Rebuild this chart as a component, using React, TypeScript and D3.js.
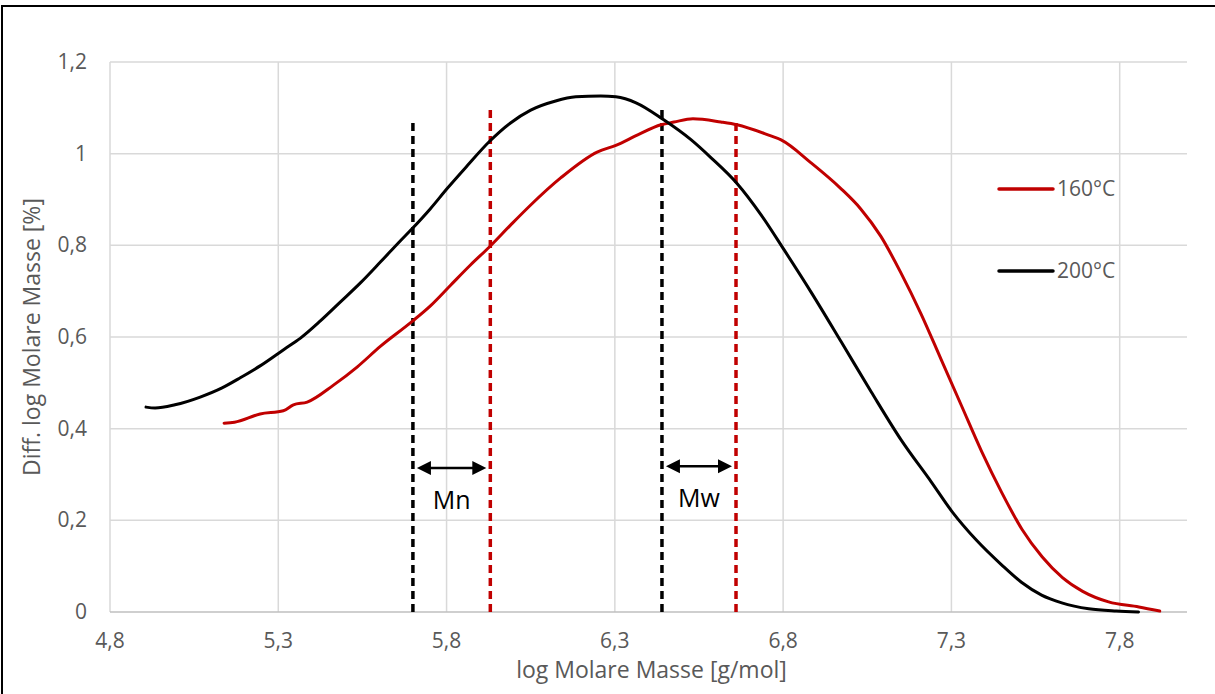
import React, { useRef, useEffect } from 'react';
import * as d3 from 'd3';

// 200°C curve (black)
const x200 = [4.907, 4.934, 4.993, 5.068, 5.133, 5.187, 5.246, 5.321, 5.365, 5.425, 5.484, 5.544, 5.604, 5.663, 5.696, 5.752, 5.803, 5.857, 5.928, 5.99, 6.05, 6.124, 6.184, 6.258, 6.303, 6.363, 6.443, 6.527, 6.586, 6.663, 6.735, 6.803, 6.883, 6.973, 7.062, 7.151, 7.24, 7.303, 7.374, 7.449, 7.508, 7.568, 7.628, 7.708, 7.79, 7.856];
const y200 = [0.447, 0.445, 0.452, 0.469, 0.489, 0.511, 0.537, 0.575, 0.597, 0.635, 0.676, 0.718, 0.764, 0.81, 0.835, 0.88, 0.925, 0.97, 1.027, 1.067, 1.095, 1.115, 1.124, 1.126, 1.124, 1.111, 1.075, 1.03, 0.991, 0.935, 0.866, 0.79, 0.698, 0.589, 0.48, 0.375, 0.284, 0.218, 0.157, 0.103, 0.065, 0.037, 0.02, 0.007, 0.002, 0.0];

// 160°C curve (red)
const x160 = [5.139, 5.17, 5.246, 5.315, 5.345, 5.386, 5.464, 5.535, 5.604, 5.696, 5.752, 5.812, 5.871, 5.928, 5.99, 6.05, 6.139, 6.249, 6.303, 6.368, 6.437, 6.476, 6.532, 6.615, 6.663, 6.755, 6.794, 6.883, 6.97, 7.03, 7.09, 7.15, 7.21, 7.27, 7.33, 7.39, 7.45, 7.51, 7.57, 7.63, 7.69, 7.767, 7.857, 7.919];
const y160 = [0.412, 0.414, 0.432, 0.439, 0.452, 0.458, 0.495, 0.535, 0.58, 0.633, 0.668, 0.713, 0.757, 0.797, 0.844, 0.888, 0.947, 1.004, 1.018, 1.041, 1.063, 1.069, 1.076, 1.069, 1.063, 1.041, 1.03, 0.98, 0.925, 0.88, 0.82, 0.74, 0.65, 0.55, 0.45, 0.35, 0.26, 0.18, 0.12, 0.075, 0.045, 0.022, 0.011, 0.002];

const xTicks = [4.8, 5.3, 5.8, 6.3, 6.8, 7.3, 7.8];
const xTickLabels = ['4,8', '5,3', '5,8', '6,3', '6,8', '7,3', '7,8'];
const yTicks = [0, 0.2, 0.4, 0.6, 0.8, 1, 1.2];
const yTickLabels = ['0', '0,2', '0,4', '0,6', '0,8', '1', '1,2'];

// Mn / Mw marker lines: position, top value, colour
const markerX = [5.70, 5.93, 6.44, 6.66];
const markerTop = [1.076, 1.10, 1.098, 1.074];
const markerColor = ['#000000', '#c00000', '#000000', '#c00000'];

const arrowNames = ['Mn', 'Mw'];
const arrowFrom = [5.70, 6.44];
const arrowTo = [5.93, 6.66];
const arrowY = [0.314, 0.318];
const arrowLabelY = [0.225, 0.229];

const seriesNames = ['160°C', '200°C'];
const seriesColors = ['#c00000', '#000000'];

export default function App() {
  const svgRef = useRef<SVGSVGElement>(null);

  useEffect(() => {
    const width = 1215;
    const height = 694;
    const font = '"Open Sans", sans-serif';

    const x = d3.scaleLinear().domain([4.8, 8.0]).range([110, 1187]);
    const y = d3.scaleLinear().domain([0, 1.2]).range([612, 62]);

    const svg = d3.select(svgRef.current)
      .attr('width', width)
      .attr('height', height)
      .attr('viewBox', [0, 0, width, height].join(' '));
    svg.selectAll('*').remove();

    svg.append('rect').attr('width', width).attr('height', height).attr('fill', '#fff');

    // outer frame (right and bottom edges fall outside the picture)
    svg.append('rect')
      .attr('x', 2).attr('y', 6).attr('width', 1300).attr('height', 800)
      .attr('fill', 'none').attr('stroke', '#000').attr('stroke-width', 2);

    // grid
    svg.append('g')
      .selectAll('line')
      .data(yTicks.slice(1))
      .join('line')
        .attr('x1', x(4.8)).attr('x2', x(8.0))
        .attr('y1', d => y(d)).attr('y2', d => y(d))
        .attr('stroke', '#d9d9d9').attr('stroke-width', 1.5);

    svg.append('g')
      .selectAll('line')
      .data(xTicks)
      .join('line')
        .attr('x1', d => x(d)).attr('x2', d => x(d))
        .attr('y1', y(0)).attr('y2', y(1.2))
        .attr('stroke', '#d9d9d9').attr('stroke-width', 1.5);

    // x axis line
    svg.append('line')
      .attr('x1', x(4.8)).attr('x2', x(8.0))
      .attr('y1', y(0)).attr('y2', y(0))
      .attr('stroke', '#bfbfbf').attr('stroke-width', 1.5);

    // tick labels
    svg.append('g')
      .selectAll('text')
      .data(xTicks)
      .join('text')
        .attr('x', d => x(d))
        .attr('y', 648)
        .attr('text-anchor', 'middle')
        .attr('font-family', font).attr('font-size', 21).attr('fill', '#595959')
        .text((d, i) => xTickLabels[i]);

    svg.append('g')
      .selectAll('text')
      .data(yTicks)
      .join('text')
        .attr('x', 87)
        .attr('y', d => y(d) + 7)
        .attr('text-anchor', 'end')
        .attr('font-family', font).attr('font-size', 21).attr('fill', '#595959')
        .text((d, i) => yTickLabels[i]);

    // axis titles
    svg.append('text')
      .attr('x', (x(4.8) + x(8.0)) / 2 + 3)
      .attr('y', 678)
      .attr('text-anchor', 'middle')
      .attr('font-family', font).attr('font-size', 23).attr('fill', '#595959')
      .text('log Molare Masse [g/mol]');

    svg.append('text')
      .attr('transform', `translate(40,${(y(0) + y(1.2)) / 2}) rotate(-90)`)
      .attr('text-anchor', 'middle')
      .attr('font-family', font).attr('font-size', 23).attr('fill', '#595959')
      .text('Diff. log Molare Masse [%]');

    // dashed Mn / Mw lines
    svg.append('g')
      .selectAll('line')
      .data(markerX)
      .join('line')
        .attr('x1', d => x(d)).attr('x2', d => x(d))
        .attr('y1', y(0)).attr('y2', (d, i) => y(markerTop[i]))
        .attr('stroke', (d, i) => markerColor[i])
        .attr('stroke-width', 3.5)
        .attr('stroke-dasharray', '8,5');

    // curves
    const line = d3.line<[number, number]>()
      .x(d => x(d[0]))
      .y(d => y(d[1]))
      .curve(d3.curveMonotoneX);

    const series = [
      { pts: x160.map((v, i) => [v, y160[i]] as [number, number]), color: seriesColors[0] },
      { pts: x200.map((v, i) => [v, y200[i]] as [number, number]), color: seriesColors[1] },
    ];

    svg.append('g')
      .selectAll('path')
      .data(series)
      .join('path')
        .attr('d', d => line(d.pts))
        .attr('fill', 'none')
        .attr('stroke', d => d.color)
        .attr('stroke-width', 3)
        .attr('stroke-linejoin', 'round')
        .attr('stroke-linecap', 'round');

    // double arrows
    const head = 14;
    const half = 7;
    const arrows = svg.append('g');
    arrowNames.forEach((name, i) => {
      const x1 = x(arrowFrom[i]) + 4;
      const x2 = x(arrowTo[i]) - 4;
      const ay = y(arrowY[i]);
      arrows.append('line')
        .attr('x1', x1 + head - 2).attr('x2', x2 - head + 2)
        .attr('y1', ay).attr('y2', ay)
        .attr('stroke', '#000').attr('stroke-width', 2.5);
      arrows.append('path')
        .attr('d', `M${x1},${ay} L${x1 + head},${ay - half} L${x1 + head},${ay + half} Z`)
        .attr('fill', '#000');
      arrows.append('path')
        .attr('d', `M${x2},${ay} L${x2 - head},${ay - half} L${x2 - head},${ay + half} Z`)
        .attr('fill', '#000');
      arrows.append('text')
        .attr('x', (x1 + x2) / 2)
        .attr('y', y(arrowLabelY[i]))
        .attr('text-anchor', 'middle')
        .attr('font-family', font).attr('font-size', 25).attr('fill', '#000')
        .text(name);
    });

    // legend
    const legend = svg.append('g');
    seriesNames.forEach((name, i) => {
      const ly = 189 + i * 82;
      legend.append('line')
        .attr('x1', 999).attr('x2', 1053)
        .attr('y1', ly).attr('y2', ly)
        .attr('stroke', seriesColors[i]).attr('stroke-width', 3.5)
        .attr('stroke-linecap', 'round');
      legend.append('text')
        .attr('x', 1057).attr('y', ly + 7)
        .attr('font-family', font).attr('font-size', 21).attr('fill', '#595959')
        .text(name);
    });
  }, []);

  return (
    <div style={{ position: 'absolute', left: 0, top: 0 }}>
      <svg ref={svgRef} style={{ display: 'block' }}></svg>
    </div>
  );
}
